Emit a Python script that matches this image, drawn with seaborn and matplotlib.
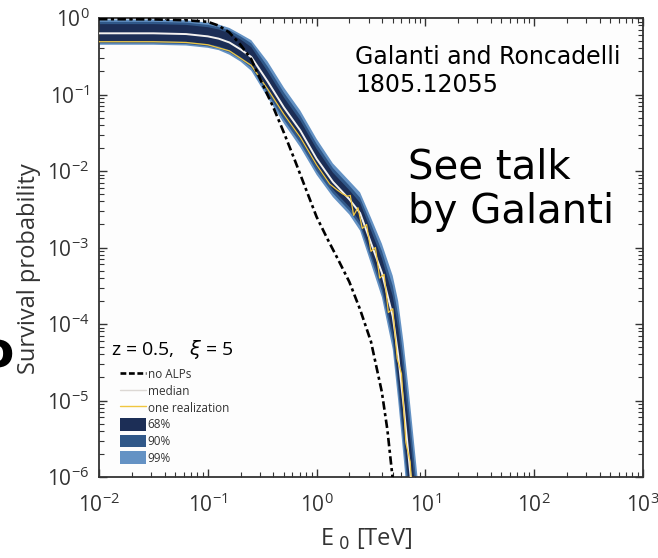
import numpy as np
import pandas as pd
import matplotlib
matplotlib.use("Agg")
import matplotlib.pyplot as plt
from matplotlib.lines import Line2D
from matplotlib.patches import Patch
from matplotlib.ticker import LogLocator, NullFormatter
import seaborn as sns

sns.set_theme(style="ticks")
plt.rcParams["font.family"] = ["Open Sans", "DejaVu Sans"]
plt.rcParams["mathtext.fontset"] = "dejavusans"

# ---- ALP band: energy grid [TeV] and log10 survival probability ----
band_energy = [0.01, 0.0316, 0.0631, 0.1, 0.126, 0.158, 0.2, 0.251, 0.355, 0.501,
               0.708, 1.0, 1.41, 2.0, 2.51, 3.16, 3.98, 5.01, 5.62, 6.31, 7.08,
               7.94, 8.91]
log_median = [-0.20, -0.20, -0.21, -0.24, -0.27, -0.32, -0.41, -0.51, -0.83, -1.17,
              -1.47, -1.84, -2.14, -2.37, -2.55, -2.94, -3.33, -3.90, -4.41, -5.07,
              -5.79, -6.49, -7.20]
log_hi99 = [-0.02, -0.02, -0.03, -0.06, -0.085, -0.13, -0.21, -0.29, -0.57, -0.91,
            -1.21, -1.58, -1.90, -2.13, -2.28, -2.61, -2.95, -3.37, -3.70, -4.25,
            -4.91, -5.61, -6.32]
log_lo99 = [-0.35, -0.35, -0.36, -0.39, -0.42, -0.48, -0.57, -0.69, -1.04, -1.38,
            -1.69, -2.05, -2.34, -2.57, -2.78, -3.21, -3.65, -4.33, -5.00, -5.75,
            -6.51, -7.21, -7.92]
log_hi90 = [-0.05, -0.05, -0.06, -0.09, -0.12, -0.16, -0.24, -0.33, -0.635, -0.975,
            -1.275, -1.645, -1.96, -2.19, -2.35, -2.69, -3.045, -3.50, -3.88, -4.455,
            -5.13, -5.83, -6.54]
log_lo90 = [-0.33, -0.33, -0.34, -0.37, -0.40, -0.45, -0.54, -0.65, -0.99, -1.33,
            -1.635, -2.00, -2.29, -2.52, -2.72, -3.14, -3.57, -4.22, -4.85, -5.58,
            -6.33, -7.03, -7.74]
log_hi68 = [-0.08, -0.08, -0.09, -0.12, -0.15, -0.20, -0.28, -0.38, -0.70, -1.04,
            -1.34, -1.71, -2.02, -2.25, -2.415, -2.775, -3.14, -3.635, -4.055, -4.66,
            -5.35, -6.05, -6.76]
log_lo68 = [-0.30, -0.30, -0.31, -0.34, -0.37, -0.42, -0.51, -0.61, -0.935, -1.275,
            -1.58, -1.945, -2.24, -2.47, -2.665, -3.075, -3.49, -4.115, -4.705, -5.41,
            -6.15, -6.85, -7.56]

# ---- conventional physics (no ALPs) ----
noalp_energy = [0.01, 0.0316, 0.0631, 0.1, 0.126, 0.158, 0.2, 0.251, 0.316, 0.398,
                0.501, 0.631, 0.794, 1.0, 1.26, 1.58, 2.0, 2.51, 3.16, 3.98, 4.47,
                5.01]
log_noalp = [-0.015, -0.018, -0.03, -0.05, -0.10, -0.19, -0.35, -0.54, -0.855, -1.16,
             -1.50, -1.86, -2.23, -2.60, -2.89, -3.16, -3.45, -3.81, -4.23, -4.89,
             -5.38, -6.03]

# ---- a single realization of the magnetic field ----
real_energy = [0.01, 0.0316, 0.0631, 0.1, 0.158, 0.251, 0.355, 0.501, 0.708, 1.0,
               1.32, 1.55, 1.74, 1.91, 2.04, 2.19, 2.40, 2.63, 2.88, 3.16, 3.47,
               3.80, 4.17, 4.57, 5.01, 5.50, 6.03, 6.61, 7.24, 7.94]
log_real = [-0.31, -0.31, -0.32, -0.35, -0.43, -0.62, -0.93, -1.26, -1.56, -1.92,
            -2.17, -2.25, -2.30, -2.33, -2.32, -2.58, -2.48, -2.75, -2.70, -3.05,
            -3.00, -3.40, -3.35, -3.85, -3.80, -4.45, -4.65, -5.55, -5.80, -6.65]

x_ticks = [1e-2, 1e-1, 1e0, 1e1, 1e2, 1e3]
y_ticks = [1e-6, 1e-5, 1e-4, 1e-3, 1e-2, 1e-1, 1e0]

c68, c90, c99 = "#1c2e56", "#305889", "#6492c4"
c_med, c_real = "#f4f2f0", "#f0c640"
ink = "#333333"

band = pd.DataFrame({
    "E": band_energy,
    "median": np.power(10.0, log_median),
    "lo99": np.power(10.0, log_lo99), "hi99": np.power(10.0, log_hi99),
    "lo90": np.power(10.0, log_lo90), "hi90": np.power(10.0, log_hi90),
    "lo68": np.power(10.0, log_lo68), "hi68": np.power(10.0, log_hi68),
})
noalp = pd.DataFrame({"E": noalp_energy, "P": np.power(10.0, log_noalp)})
real = pd.DataFrame({"E": real_energy, "P": np.power(10.0, log_real)})

fig = plt.figure(figsize=(6.58, 5.58), dpi=100)
fig.patch.set_facecolor("white")
ax = fig.add_axes([99 / 658, 1 - 477 / 558, 544 / 658, 459 / 558])
ax.set_facecolor("#fdfdfd")
ax.set_xscale("log")
ax.set_yscale("log")

for lvl, col in (("99", c99), ("90", c90), ("68", c68)):
    ax.fill_between(band["E"], band["lo" + lvl], band["hi" + lvl],
                    color=col, lw=0, zorder=2)

sns.lineplot(data=band, x="E", y="median", ax=ax, color=c_med, lw=1.4,
             estimator=None, sort=False, zorder=4)
sns.lineplot(data=real, x="E", y="P", ax=ax, color=c_real, lw=0.9,
             estimator=None, sort=False, zorder=5)
sns.lineplot(data=noalp, x="E", y="P", ax=ax, color="black", lw=1.9,
             estimator=None, sort=False, zorder=6,
             linestyle=(0, (3.2, 1.3, 1.2, 1.3)))

ax.set_xlim(1e-2, 1e3)
ax.set_ylim(1e-6, 1e0)
ax.set_xticks(x_ticks)
ax.set_yticks(y_ticks)
ax.xaxis.set_minor_locator(LogLocator(base=10, subs=np.arange(2, 10), numticks=100))
ax.yaxis.set_minor_locator(LogLocator(base=10, subs=np.arange(2, 10), numticks=100))
ax.xaxis.set_minor_formatter(NullFormatter())
ax.yaxis.set_minor_formatter(NullFormatter())
ax.tick_params(which="both", direction="in", top=True, right=True,
               color=ink, labelcolor=ink, labelsize=15)
ax.tick_params(which="major", length=6, width=1.0)
ax.tick_params(which="minor", length=3.5, width=0.8)
ax.tick_params(axis="x", pad=12)
ax.tick_params(axis="y", pad=7)
for sp in ax.spines.values():
    sp.set_color(ink)
    sp.set_linewidth(1.3)

ax.set_xlabel("E$_{\\ 0}$ [TeV]", fontsize=17, color=ink)
ax.set_ylabel("Survival probability", fontsize=17, color=ink)
ax.xaxis.set_label_coords(0.49, -0.109)
ax.yaxis.set_label_coords(-0.107, 0.453)

# parameters of the simulation and legend
ax.text(0.022, 0.252, "z = 0.5,   $\\xi$ = 5", transform=ax.transAxes,
        fontsize=14, color="black", ha="left", va="bottom")
handles = [
    Line2D([], [], color="black", lw=1.9, linestyle=(0, (2.2, 1.0))),
    Line2D([], [], color="#dcd8d4", lw=1.0),
    Line2D([], [], color=c_real, lw=1.0),
    Patch(facecolor=c68, edgecolor="none"),
    Patch(facecolor=c90, edgecolor="none"),
    Patch(facecolor=c99, edgecolor="none"),
]
labels = ["no ALPs", "median", "one realization", "68%", "90%", "99%"]
leg = ax.legend(handles, labels, loc="upper left", bbox_to_anchor=(0.0386, 0.238),
                frameon=False, fontsize=8.5, borderpad=0, borderaxespad=0,
                handlelength=2.2, handleheight=1.3, handletextpad=0.15,
                labelspacing=0.28)
for t in leg.get_texts():
    t.set_color(ink)

# slide annotations
fig.text(355 / 658, 1 - 92 / 558, "Galanti and Roncadelli\n1805.12055",
         fontsize=17, family="DejaVu Sans", color="black", ha="left",
         va="baseline", linespacing=1.2)
fig.text(408 / 658, 1 - 223 / 558, "See talk\nby Galanti",
         fontsize=29, family="DejaVu Sans", color="black", ha="left",
         va="baseline", linespacing=1.15)
fig.text(-3 / 658, 1 - 367 / 558, "o", fontsize=36, fontweight="bold",
         family="DejaVu Sans", color="black", ha="center", va="baseline")

fig.savefig("out.png", dpi=100, facecolor="white")
